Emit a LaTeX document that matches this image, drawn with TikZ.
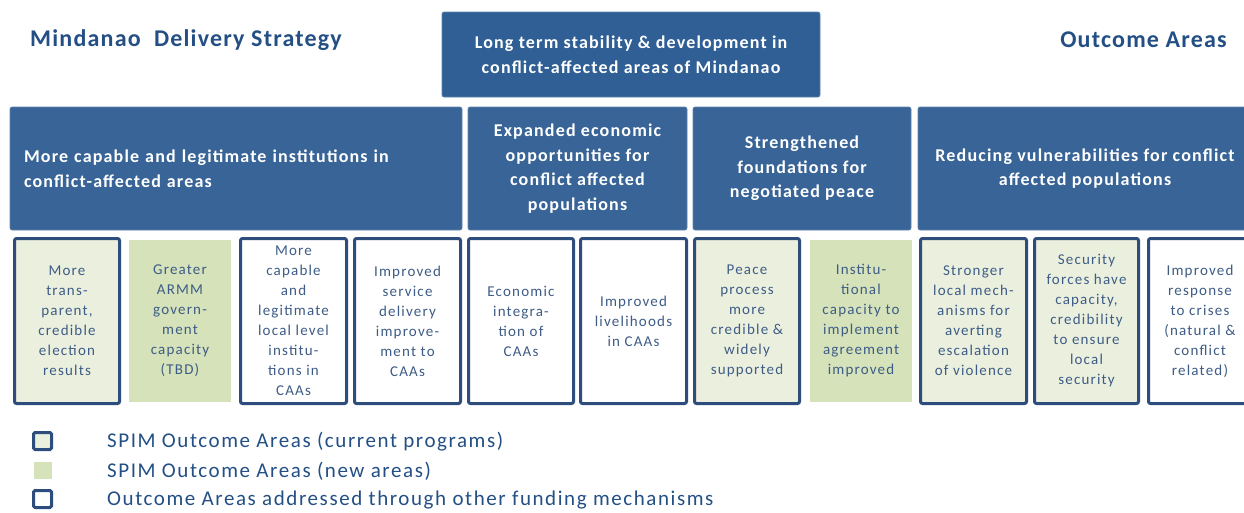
\documentclass[tikz,border=0pt]{standalone}
\usepackage{fontspec}
\setmainfont{Carlito}
\definecolor{hdrblue}{HTML}{386497}
\definecolor{topblue}{HTML}{2F5F95}
\definecolor{navy}{HTML}{2D4D7C}
\definecolor{titleblue}{HTML}{234F85}
\definecolor{smalltext}{HTML}{3E5C86}
\definecolor{lightgreen}{HTML}{EBF0DE}
\definecolor{newgreen}{HTML}{D5E2BA}
\tikzset{
  hdr/.style={fill=hdrblue, draw=hdrblue!80!white, line width=0.6pt, rounded corners=2pt, text=white,
     font=\fontsize{18}{24.5}\selectfont\bfseries\addfontfeatures{LetterSpace=6.5}, align=center, inner sep=0pt},
  ob/.style={line width=3pt, draw=navy, rounded corners=2pt, text=smalltext,
     font=\fontsize{15}{20}\selectfont\addfontfeatures{LetterSpace=8}, align=center, inner sep=0pt, minimum height=165pt},
  cur/.style={ob, fill=lightgreen},
  other/.style={ob, fill=white},
  new/.style={fill=newgreen, text=smalltext, font=\fontsize{15}{20}\selectfont\addfontfeatures{LetterSpace=8}, align=center,
     inner sep=0pt, minimum height=162pt, minimum width=102pt},
  ttl/.style={text=titleblue, font=\fontsize{24}{28}\selectfont\bfseries\addfontfeatures{LetterSpace=5}, inner sep=0pt},
  leg/.style={text=titleblue, font=\fontsize{21}{24}\selectfont\addfontfeatures{LetterSpace=7.5}, inner sep=0pt, anchor=west},
}
\begin{document}
\begin{tikzpicture}[x=1pt,y=-1pt]
\useasboundingbox (0,0) rectangle (1244,512);
\begin{scope}
\clip (0,0) rectangle (1244,512);
% titles
\node[ttl, anchor=west] (t1) at (30,40) {Mindanao\ \ Delivery Strategy};
\node[ttl, anchor=east] (t2) at (1227,40) {Outcome Areas};
% top box
\node[hdr, fill=topblue, minimum width=378pt, minimum height=85pt] (top) at (631,54.5)
  {Long term stability \& development in\\conflict-affected areas of Mindanao};
% row 2
\node[hdr, minimum width=452pt, minimum height=123pt, text width=424pt, align=left] (h1) at (236,168.5)
  {More capable and legitimate institutions in\\conflict-affected areas};
\node[hdr, minimum width=219pt, minimum height=123pt] (h2) at (577.5,168.5)
  {Expanded economic\\opportunities for\\conflict affected\\populations};
\node[hdr, minimum width=218pt, minimum height=123pt] (h3) at (802,168.5)
  {Strengthened\\foundations for\\negotiated peace};
\node[hdr, minimum width=334pt, minimum height=123pt] (h4) at (1085,168.5)
  {Reducing vulnerabilities for conflict\\affected populations};
% row 3
\node[cur, minimum width=105pt] (b1) at (67,321) {More\\trans-\\parent,\\credible\\election\\results};
\node[new] (b2) at (180,321) {Greater\\ARMM\\govern-\\ment\\capacity\\(TBD)};
\node[other, minimum width=106pt] (b3) at (293.5,321) {More\\capable\\and\\legitimate\\local level\\institu-\\tions in\\CAAs};
\node[other, minimum width=106pt] (b4) at (407.5,321) {Improved\\service\\delivery\\improve-\\ment to\\CAAs};
\node[other, minimum width=105pt] (b5) at (521,321) {Economic\\integra-\\tion of\\CAAs};
\node[other, minimum width=106pt] (b6) at (633.5,321) {Improved\\livelihoods\\in CAAs};
\node[cur, minimum width=105pt] (b7) at (747,321) {Peace\\process\\more\\credible \&\\widely\\supported};
\node[new] (b8) at (861,321) {Institu-\\tional\\capacity to\\implement\\agreement\\improved};
\node[cur, minimum width=106pt] (b9) at (973.5,321) {Stronger\\local mech-\\anisms for\\averting\\escalation\\of violence};
\node[cur, minimum width=104pt] (b10) at (1086.5,321) {Security\\forces have\\capacity,\\credibility\\to ensure\\local\\security};
\node[other, minimum width=103pt] (b11) at (1200,321) {Improved\\response\\to crises\\(natural \&\\conflict\\related)};
% legend
\node[line width=3pt, draw=navy, fill=lightgreen, rounded corners=1.5pt, minimum width=18pt, minimum height=17pt, inner sep=0pt] (l1) at (42.5,441) {};
\node[fill=newgreen, minimum width=18pt, minimum height=17pt, inner sep=0pt] (l2) at (42.5,470.5) {};
\node[line width=3pt, draw=navy, fill=white, rounded corners=1.5pt, minimum width=18pt, minimum height=17pt, inner sep=0pt] (l3) at (42.5,499) {};
\node[leg] (lt1) at (107,442) {SPIM Outcome Areas (current programs)};
\node[leg] (lt2) at (107,471) {SPIM Outcome Areas (new areas)};
\node[leg] (lt3) at (107,500) {Outcome Areas addressed through other funding mechanisms};
\end{scope}
\end{tikzpicture}
\end{document}
